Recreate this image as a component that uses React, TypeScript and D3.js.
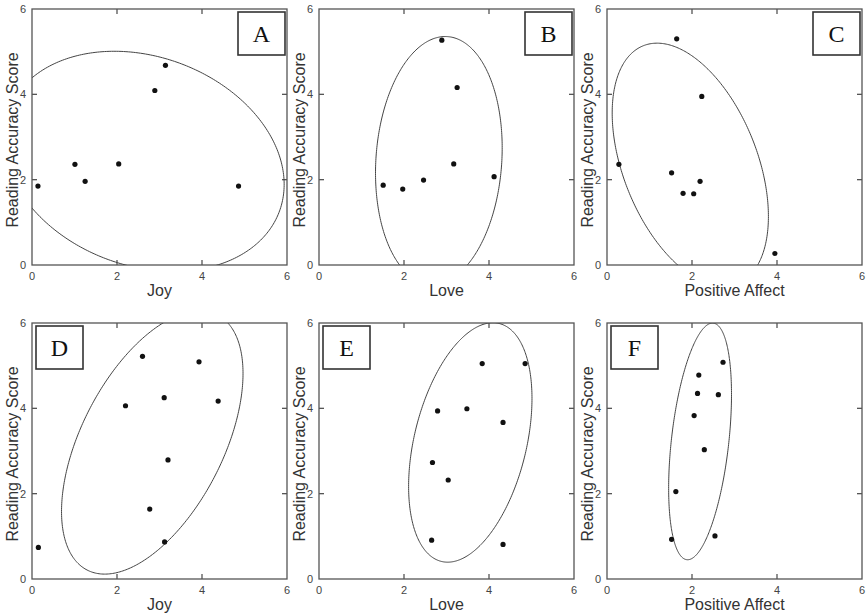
import React from 'react';
import * as d3 from 'd3';

// panel labels and axis titles
const letters = ['A', 'B', 'C', 'D', 'E', 'F'];
const xTitles = ['Joy', 'Love', 'Positive Affect', 'Joy', 'Love', 'Positive Affect'];
const yTitle = 'Reading Accuracy Score';
const tickValues = [0, 2, 4, 6];

// scatter points
const xA = [0.14, 1.01, 1.25, 2.04, 2.89, 3.14, 4.86];
const yA = [1.85, 2.36, 1.96, 2.37, 4.09, 4.68, 1.85];

const xB = [1.51, 1.97, 2.46, 2.89, 3.17, 3.25, 4.12];
const yB = [1.87, 1.78, 1.99, 5.27, 2.37, 4.16, 2.07];

const xC = [0.28, 1.52, 1.64, 1.79, 2.04, 2.19, 2.23, 3.95];
const yC = [2.36, 2.16, 5.3, 1.68, 1.67, 1.96, 3.95, 0.27];

const xD = [0.15, 2.2, 2.6, 2.77, 3.11, 3.12, 3.2, 3.93, 4.38];
const yD = [0.74, 4.06, 5.22, 1.64, 4.25, 0.87, 2.79, 5.09, 4.17];

const xE = [2.65, 2.67, 2.79, 3.04, 3.48, 3.84, 4.33, 4.33, 4.85];
const yE = [0.91, 2.73, 3.94, 2.32, 3.99, 5.05, 3.67, 0.81, 5.05];

const xF = [1.52, 1.62, 2.05, 2.13, 2.16, 2.29, 2.54, 2.62, 2.73];
const yF = [0.93, 2.05, 3.83, 4.35, 4.78, 3.03, 1.01, 4.32, 5.08];

// ellipses: [centre x, centre y, semi-major, semi-minor, angle in degrees]
const ellA = [2.63, 2.43, 3.4, 2.45, -20];
const ellB = [2.82, 2.45, 2.91, 1.48, 86];
const ellC = [1.96, 2.35, 3.0, 1.58, 111.6];
const ellD = [2.83, 3.2, 3.36, 1.67, 62.85];
const ellE = [3.56, 3.2, 2.87, 1.32, 76.3];
const ellF = [2.19, 3.225, 2.79, 0.675, 83.6];

const pointsX = [xA, xB, xC, xD, xE, xF];
const pointsY = [yA, yB, yC, yD, yE, yF];
const ellipses = [ellA, ellB, ellC, ellD, ellE, ellF];

const colLeft = [32, 319, 607];
const rowTop = [9, 323];
const plotW = 255;
const plotH = 256;

function Panel({ i }: { i: number }) {
  const left = colLeft[i % 3];
  const top = rowTop[Math.floor(i / 3)];
  const x = d3.scaleLinear().domain([0, 6]).range([0, plotW]);
  const y = d3.scaleLinear().domain([0, 6]).range([plotH, 0]);

  const [cx, cy, a, b, deg] = ellipses[i];
  const th = (deg * Math.PI) / 180;
  const ts = d3.range(0, 361).map(d => (d * Math.PI) / 180);
  const ellPath = d3.line<number>()
    .x(t => x(cx + a * Math.cos(t) * Math.cos(th) - b * Math.sin(t) * Math.sin(th)))
    .y(t => y(cy + a * Math.cos(t) * Math.sin(th) + b * Math.sin(t) * Math.cos(th)))(ts);

  const clipId = 'clip' + i;
  const boxW = 47, boxH = 43;
  const boxX = i < 3 ? plotW - boxW - 2 : 4;
  const boxY = 3;
  const inner = tickValues.slice(1, 3);
  const tickLen = 5;
  const frame = '#555';

  return (
    <g transform={`translate(${left},${top})`}>
      <defs>
        <clipPath id={clipId}>
          <rect x={0} y={0} width={plotW} height={plotH} />
        </clipPath>
      </defs>
      <rect x={0} y={0} width={plotW} height={plotH} fill="white" stroke={frame} strokeWidth={1.3} />
      {inner.map(v => (
        <g key={'t' + v} stroke={frame} strokeWidth={1.3}>
          <line x1={x(v)} x2={x(v)} y1={plotH} y2={plotH - tickLen} />
          <line x1={x(v)} x2={x(v)} y1={0} y2={tickLen} />
          <line x1={0} x2={tickLen} y1={y(v)} y2={y(v)} />
          <line x1={plotW} x2={plotW - tickLen} y1={y(v)} y2={y(v)} />
        </g>
      ))}
      {tickValues.map(v => (
        <text key={'xl' + v} x={x(v)} y={plotH + 15} textAnchor="middle"
          fontFamily="Liberation Sans, Arial, sans-serif" fontSize={11} fill="#444">{v}</text>
      ))}
      {tickValues.map(v => (
        <text key={'yl' + v} x={-6} y={y(v) + 4} textAnchor="end"
          fontFamily="Liberation Sans, Arial, sans-serif" fontSize={11} fill="#444">{v}</text>
      ))}
      <g clipPath={`url(#${clipId})`}>
        <path d={ellPath || ''} fill="none" stroke="#444" strokeWidth={1} />
      </g>
      {pointsX[i].map((px, k) => (
        <circle key={k} cx={x(px)} cy={y(pointsY[i][k])} r={2.6} fill="#111" />
      ))}
      <rect x={boxX} y={boxY} width={boxW} height={boxH} fill="white" stroke="#333" strokeWidth={1.6} />
      <text x={boxX + boxW / 2} y={boxY + boxH / 2 + 8} textAnchor="middle"
        fontFamily="Liberation Serif, Times New Roman, serif" fontSize={24} fill="#111">{letters[i]}</text>
      <text x={plotW / 2} y={plotH + 31} textAnchor="middle"
        fontFamily="Liberation Sans, Arial, sans-serif" fontSize={16} fill="#333">{xTitles[i]}</text>
      <text transform={`translate(${-14},${plotH / 2 + 3}) rotate(-90)`} textAnchor="middle"
        fontFamily="Liberation Sans, Arial, sans-serif" fontSize={16} fill="#333">{yTitle}</text>
    </g>
  );
}

export default function App() {
  return (
    <svg width={866} height={614} style={{ position: 'absolute', left: 0, top: 0, background: 'white' }}>
      <rect width={866} height={614} fill="white" />
      {letters.map((l, i) => <Panel key={l} i={i} />)}
    </svg>
  );
}
